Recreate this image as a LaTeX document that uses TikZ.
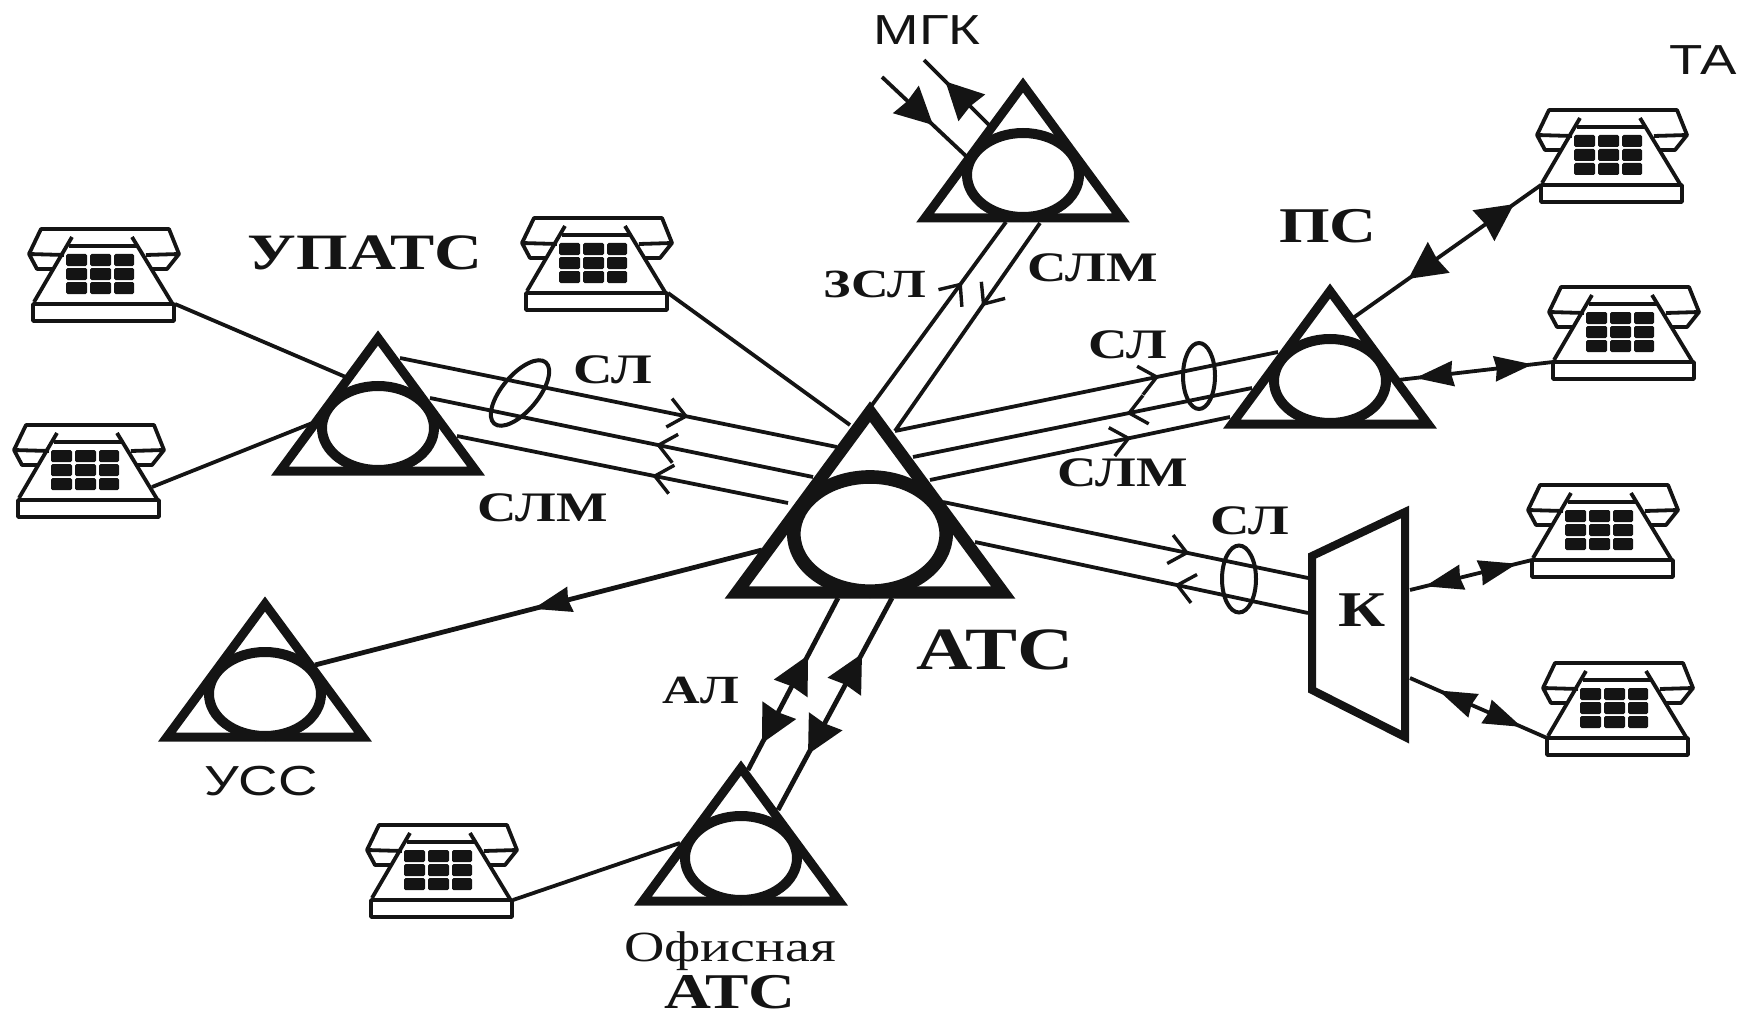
\documentclass[tikz,border=0pt]{standalone}
\usepackage{fontspec}
\setmainfont{Liberation Serif}[FakeStretch=1.3]
\setsansfont{Liberation Sans}[FakeStretch=1.3]
\usetikzlibrary{arrows.meta,decorations.markings,shapes.geometric}
\definecolor{inkblack}{HTML}{141414}

\tikzset{
  filledtip/.tip={Stealth[length=37pt,width=37pt,inset=2pt]},
  slimtip/.tip={Stealth[length=38pt,width=25pt,inset=2pt]},
  barbtip/.tip={Straight Barb[length=17pt,width=29pt,line width=3.4pt]},
  wire/.style={draw=inkblack, line width=3.8pt},
  heavywire/.style={draw=inkblack, line width=4.8pt},
  ring/.style={draw=inkblack, ellipse, line width=4pt, inner sep=0pt, outer sep=0pt},
  stationring/.style={draw=inkblack, fill=white, ellipse, inner sep=0pt, outer sep=0pt},
  boldlabel/.style={inner sep=0pt, text=inkblack, font=\bfseries\fontsize{42}{42}\selectfont},
  plainlabel/.style={inner sep=0pt, text=inkblack, font=\sffamily\fontsize{42}{42}\selectfont},
  barbat/.style={postaction=decorate, decoration={markings, mark=at position #1 with {\arrow{barbtip}}}},
  fillat/.style={postaction=decorate, decoration={markings, mark=at position #1 with {\arrow{filledtip}}}},
  slimat/.style={postaction=decorate, decoration={markings, mark=at position #1 with {\arrow{slimtip}}}},
  duplex/.style 2 args={postaction=decorate, decoration={markings,
    mark=at position #1 with {\arrowreversed{filledtip}}, mark=at position #2 with {\arrow{filledtip}}}},
  slimduplex/.style 2 args={postaction=decorate, decoration={markings,
    mark=at position #1 with {\arrowreversed{slimtip}}, mark=at position #2 with {\arrow{slimtip}}}},
  phone/.pic={
    \draw[draw=inkblack, line width=3.8pt, line join=round]
      (-71,-18) rectangle (70,-1)
      (-70,-20) -- (-32,-85) (68,-19) -- (28,-85) (-35,-76) -- (33,-76)
      (-50,-53) -- (-67,-53) -- (-75,-68) -- (-63,-93) -- (65,-93) -- (75,-68) -- (63,-53) -- (48,-53)
      (-75,-68) -- (-40,-67) (42,-67) -- (75,-68);
    \foreach \ky in {-68,-54,-40}
      \foreach \kx/\kw in {-38/21,-14/21,10/20}
        \fill[inkblack, rounded corners=1.5pt] (\kx,\ky) rectangle ++(\kw,12);
    \coordinate (-left) at (-71,-18);
    \coordinate (-right) at (71,-18);
  }
}

% name, x of the centre, y of the lower edge, scale
\newcommand{\station}[4]{
  \draw[draw=inkblack, line width=#4*9pt] (#2,#3-137*#4) -- (#2+98*#4,#3-4*#4) -- (#2-98*#4,#3-4*#4) -- cycle;
  \node[stationring, line width=#4*10pt, minimum width=#4*112pt, minimum height=#4*84pt] (#1) at (#2,#3-47*#4) {};
}

\begin{document}
\begin{tikzpicture}[x=1pt,y=-1pt]
\useasboundingbox (0,0) rectangle (1743,1019);

% telephones
\pic (taA) at (1612,203) {phone};
\pic (taB) at (1624,380) {phone};
\pic (taC) at (1603,578) {phone};
\pic (taD) at (1618,756) {phone};
\pic (taE) at (104,322) {phone};
\pic (taF) at (89,518) {phone};
\pic (taG) at (597,311) {phone};
\pic (taH) at (442,918) {phone};

% ends of the lines on the triangles
\coordinate (mgkIn) at (882,77);
\coordinate (mgkInEnd) at (967,157);
\coordinate (mgkOut) at (924,60);
\coordinate (mgkOutEnd) at (989,125);
\coordinate (mgkL) at (1006,222);
\coordinate (mgkR) at (1040,223);
\coordinate (atcL) at (872,405);
\coordinate (atcR) at (895,431);
\coordinate (upA) at (400,358);
\coordinate (upB) at (430,398);
\coordinate (upC) at (457,436);
\coordinate (upE) at (348,378);
\coordinate (upF) at (320,420);
\coordinate (atcA) at (837,447);
\coordinate (atcB) at (813,477);
\coordinate (atcC) at (788,503);
\coordinate (atcG) at (850,425);
\coordinate (psA) at (1278,352);
\coordinate (psB) at (1252,388);
\coordinate (psC) at (1230,417);
\coordinate (atcD) at (913,457);
\coordinate (atcE) at (930,480);
\coordinate (atcF) at (943,502);
\coordinate (atcH) at (975,542);
\coordinate (swA) at (1308,578);
\coordinate (swB) at (1308,613);
\coordinate (swC) at (1410,590);
\coordinate (swD) at (1410,678);
\coordinate (psD) at (1353,318);
\coordinate (psE) at (1398,380);
\coordinate (atcJ) at (762,550);
\coordinate (ussA) at (315,665);
\coordinate (ofA) at (748,770);
\coordinate (ofB) at (778,810);
\coordinate (ofC) at (680,843);
\coordinate (atcK) at (838,598);
\coordinate (atcM) at (892,598);

% connectors
\draw[wire, fillat=0.6] (mgkIn) -- (mgkInEnd);
\draw[wire, fillat=0.67] (mgkOutEnd) -- (mgkOut);
\draw[wire, barbat=0.67] (atcL) -- (mgkL);
\draw[wire, barbat=0.4] (mgkR) -- (atcR);
\draw[wire] (taE-right) -- (upE);
\draw[wire] (taF-right) ++(-8,-13) -- (upF);
\draw[wire] (taG-right) -- (atcG);
\draw[wire] (taH-right) -- (ofC);
\draw[wire, barbat=0.66] (upA) -- (atcA);
\draw[wire, barbat=0.41] (atcB) -- (upB);
\draw[wire, barbat=0.41] (atcC) -- (upC);
\draw[wire, barbat=0.69] (atcR) -- (psA);
\draw[wire, barbat=0.37] (psB) -- (atcD);
\draw[wire, barbat=0.67] (atcE) -- (psC);
\draw[wire, barbat=0.675] (atcF) -- (swA);
\draw[wire, barbat=0.40] (swB) -- (atcH);
\draw[heavywire, slimat=0.512] (atcJ) -- (ussA);
\draw[heavywire, duplex={0.155}{0.667}] (ofA) -- (atcK);
\draw[heavywire, duplex={0.263}{0.737}] (ofB) -- (atcM);
\draw[wire, duplex={0.294}{0.856}] (psD) -- (taA-left);
\draw[wire, slimduplex={0.112}{0.868}] (psE) -- (taB-left);
\draw[wire, slimduplex={0.123}{0.877}] (swC) -- (taC-left);
\draw[wire, slimduplex={0.207}{0.815}] (swD) -- (taD-left);

% bundle rings
\node[ring, minimum width=80pt, minimum height=36pt, rotate=50] (ringLeft) at (520,393) {};
\node[ring, minimum width=32pt, minimum height=66pt] (ringRight) at (1199,376) {};
\node[ring, minimum width=34pt, minimum height=67pt] (ringSwitch) at (1239,579) {};

% stations
\station{mgk}{1023}{222}{1}
\station{ps}{1330}{428}{1}
\station{upats}{378}{475}{1}
\station{uss}{265}{741}{1}
\station{office}{741}{905}{1}
\station{atc}{870}{598}{1.36}

% switch
\draw[draw=inkblack, line width=8pt, fill=white] (1312,556) -- (1405,512) -- (1405,737) -- (1312,690) -- cycle;
\node[boldlabel, font=\bfseries\fontsize{50}{50}\selectfont] (swLabel) at (1362,610) {К};

% labels
\node[plainlabel] (mgkLabel) at (927,30) {МГК};
\node[plainlabel] (taLabel) at (1703,60) {ТА};
\node[plainlabel] (ussLabel) at (261,781) {УСС};
\node[boldlabel, font=\bfseries\fontsize{51}{51}\selectfont] (upatsLabel) at (365,253) {УПАТС};
\node[boldlabel, font=\bfseries\fontsize{50}{50}\selectfont] (psLabel) at (1328,226) {ПС};
\node[boldlabel, font=\bfseries\fontsize{60}{60}\selectfont] (atcLabel) at (995,650) {АТС};
\node[boldlabel, font=\bfseries\fontsize{40}{40}\selectfont] (zslLabel) at (875,284) {ЗСЛ};
\node[boldlabel] (slmTop) at (1093,268) {СЛМ};
\node[boldlabel] (slLeft) at (613,370) {СЛ};
\node[boldlabel] (slmLeft) at (543,508) {СЛМ};
\node[boldlabel] (slRight) at (1128,345) {СЛ};
\node[boldlabel] (slmRight) at (1123,473) {СЛМ};
\node[boldlabel] (slSwitch) at (1250,521) {СЛ};
\node[boldlabel, font=\bfseries\fontsize{40}{40}\selectfont] (alLabel) at (701,690) {АЛ};
\node[inner sep=0pt, text=inkblack, font=\fontsize{43}{43}\selectfont] (officeLabel) at (730,951) {Офисная};
\node[boldlabel, font=\bfseries\fontsize{50}{50}\selectfont] (officeAtc) at (730,992) {АТС};
\end{tikzpicture}
\end{document}
